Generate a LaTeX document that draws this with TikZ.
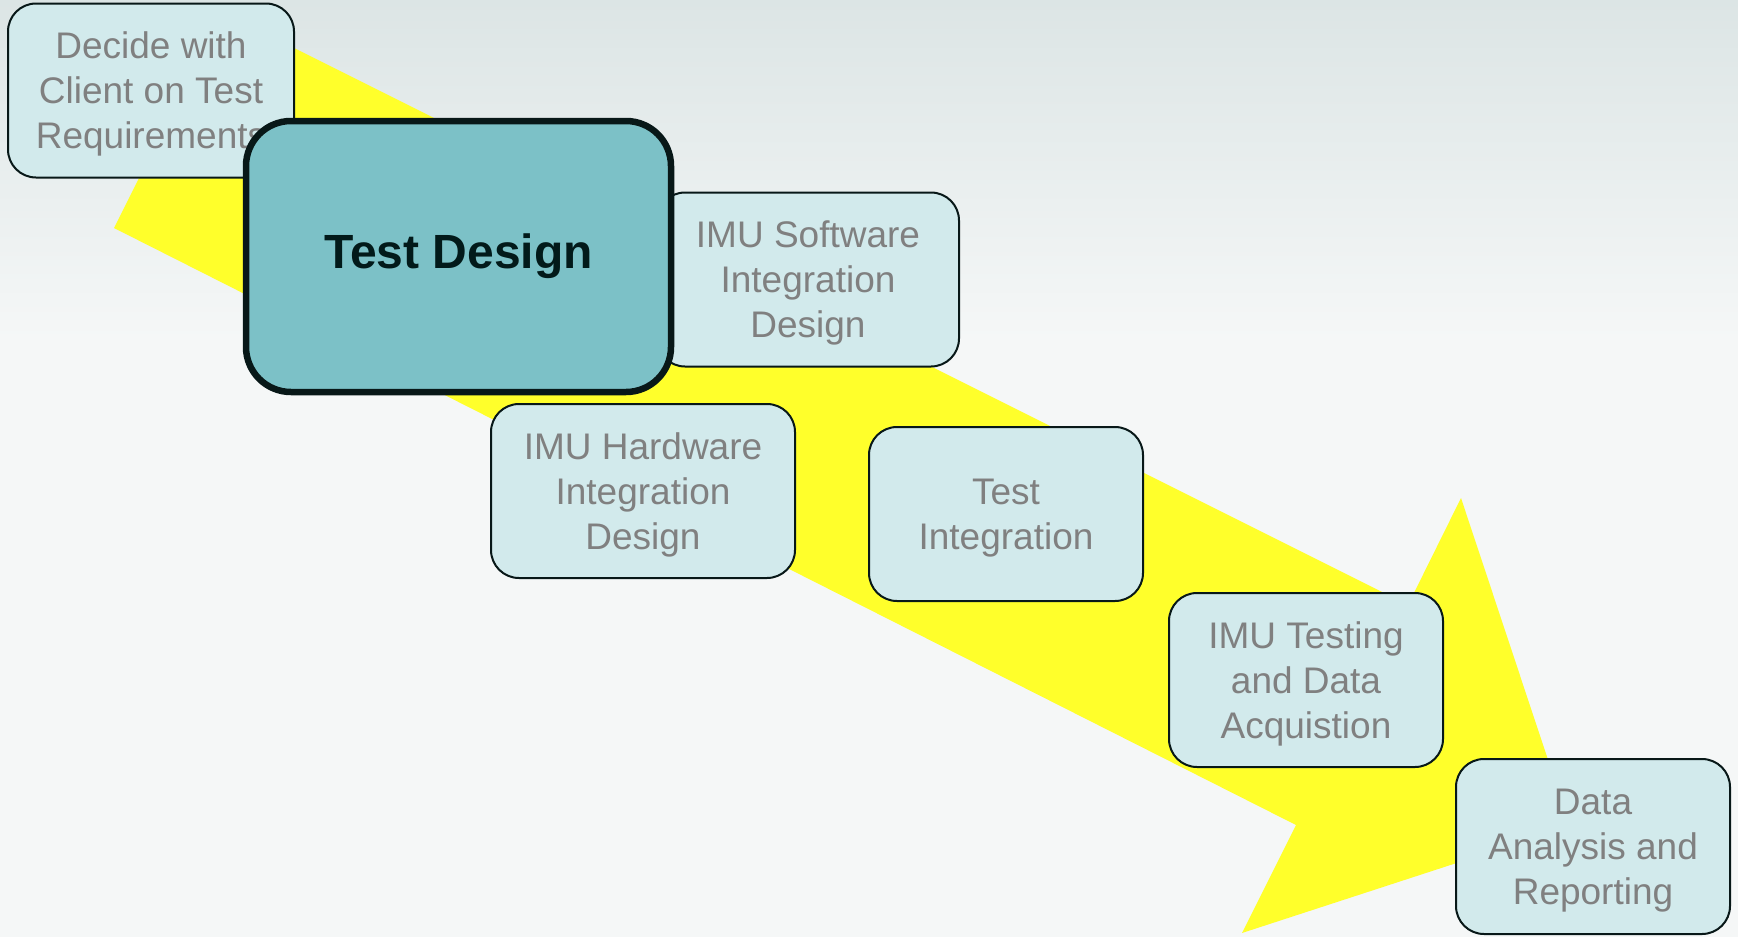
\documentclass[tikz,border=0pt]{standalone}
\usepackage{fontspec}
\setmainfont{Liberation Sans}
\usepackage{xcolor}
\usepackage{tikz}
\usetikzlibrary{positioning}

\definecolor{bgtop}{RGB}{220,229,229}
\definecolor{bgbottom}{RGB}{245,247,247}
\definecolor{arrowyellow}{RGB}{255,255,43}
\definecolor{stepfill}{RGB}{210,234,236}
\definecolor{stepline}{RGB}{8,24,24}
\definecolor{steptext}{RGB}{128,128,128}
\definecolor{activefill}{RGB}{124,193,199}
\definecolor{activetext}{RGB}{2,26,26}

\begin{document}
\begin{tikzpicture}[x=1pt, y=-1pt,
  stepbox/.style={draw=stepline, line width=2pt, fill=stepfill,
    rounded corners=28pt, text=steptext, align=center,
    font=\fontsize{37}{45}\selectfont, inner sep=0pt, text depth=0pt,
    minimum width=274pt, minimum height=174pt},
  activebox/.style={draw=stepline, line width=6.5pt, fill=activefill,
    rounded corners=45pt, text=activetext, align=center,
    font=\fontsize{48}{56}\selectfont\bfseries, inner sep=0pt,
    minimum width=425pt, minimum height=271pt}]
\useasboundingbox (0,0) rectangle (1738,937);
\fill[bgbottom] (0,0) rectangle (1738,937);
\shade[top color=bgtop, bottom color=bgbottom] (0,0) rectangle (1738,340);
\fill[arrowyellow] (222,12) -- (1408,605) -- (1461,498) -- (1570,826)
  -- (1242,933) -- (1296,825) -- (114,228) -- cycle;
\node[stepbox, minimum width=286pt] (decide) at (151,90.5) {Decide with\\Client on Test\\Requirements};
\node[stepbox, minimum width=302pt] (software) at (808,279.5) {IMU Software\\Integration\\Design};
\node[stepbox, minimum width=304pt] (hardware) at (643,491) {IMU Hardware\\Integration\\Design};
\node[stepbox] (integration) at (1006,514) {Test\\Integration};
\node[stepbox] (testing) at (1306,680) {IMU Testing\\and Data\\Acquistion};
\node[stepbox, minimum height=175pt] (reporting) at (1593,846.5) {Data\\Analysis and\\Reporting};
\node[activebox] (design) at (458.5,256.5) {Test Design};
\end{tikzpicture}
\end{document}
